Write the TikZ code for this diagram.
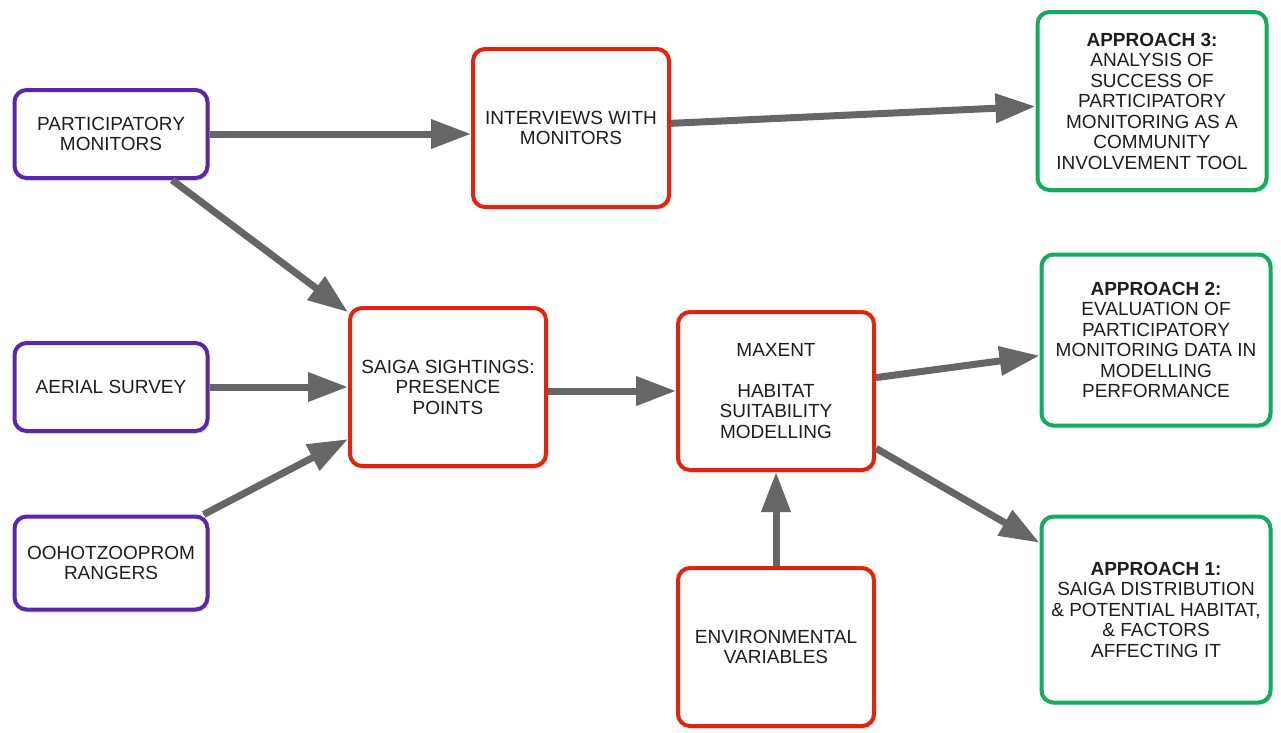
\documentclass[tikz,border=0pt]{standalone}
\usepackage{fontspec}
\setmainfont{Liberation Sans}
\usetikzlibrary{positioning,arrows.meta,shadows}
\definecolor{srcpurple}{RGB}{90,38,170}
\definecolor{procred}{RGB}{225,35,15}
\definecolor{goalgreen}{RGB}{20,170,95}
\definecolor{arrowgray}{RGB}{102,102,102}
\definecolor{textgray}{RGB}{30,30,30}

\begin{document}
\begin{tikzpicture}[x=1pt, y=-1pt, node distance=100pt, on grid, auto]
\tikzstyle{every node}=[font=\fontsize{19}{20.5}\selectfont, text=textgray, align=center]
\tikzstyle{box}=[rectangle, rounded corners=12pt, line width=4pt, fill=white, drop shadow={opacity=0.2, shadow xshift=2pt, shadow yshift=-3pt}]
\tikzstyle{src}=[box, draw=srcpurple, minimum width=193pt, minimum height=88pt]
\tikzstyle{proc}=[box, draw=procred, minimum width=196pt, minimum height=158pt]
\tikzstyle{goal}=[box, draw=goalgreen, minimum width=229pt]
\tikzstyle{link}=[line width=7pt, color=arrowgray, -{Triangle[length=40pt,width=28pt]}]
\useasboundingbox (0,0) rectangle (1281,732);
   \node[src](pm) at (111,134){PARTICIPATORY\\MONITORS};
   \node[src](aer)[below=253pt of pm]{AERIAL SURVEY};
   \node[src, minimum height=93pt](ran)[below=176pt of aer]{OOHOTZOOPROM\\RANGERS};
   \node[proc](sai)[right=337pt of aer]{SAIGA SIGHTINGS:\\PRESENCE\\POINTS};
   \node[proc](max)[below right=4pt and 328pt of sai]{MAXENT\\[20.5pt]HABITAT\\SUITABILITY\\MODELLING};
   \node[proc](env)[below=256pt of max]{ENVIRONMENTAL\\VARIABLES};
   \node[proc](int)[above right=6pt and 460pt of pm]{INTERVIEWS WITH\\MONITORS};
\node[goal, minimum height=178pt](a3)[above right=27pt and 581pt of int]{\textbf{APPROACH 3:}\\ANALYSIS OF\\SUCCESS OF\\PARTICIPATORY\\MONITORING AS A\\COMMUNITY\\INVOLVEMENT TOOL};
\node[goal, minimum height=171pt](a2)[above right=51pt and 380pt of max]{\textbf{APPROACH 2:}\\EVALUATION OF\\PARTICIPATORY\\MONITORING DATA IN\\MODELLING\\PERFORMANCE};
\node[goal, minimum height=186pt](a1)[below right=218.5pt and 380pt of max]{\textbf{APPROACH 1:}\\SAIGA DISTRIBUTION\\\& POTENTIAL HABITAT,\\\& FACTORS\\AFFECTING IT};
   \path[link](pm.east) edge (int.west |- pm.east);
   \path[link](pm) edge (sai);
   \path[link](aer) edge (sai);
   \path[link](ran) edge (sai);
\path[link](sai.east |- max) edge (max);
\path[link](int) edge (a3);
\path[link](max) edge (a2);
\path[link](max) edge (a1);
\path[link](env) edge (max);
\end{tikzpicture}
\end{document}
